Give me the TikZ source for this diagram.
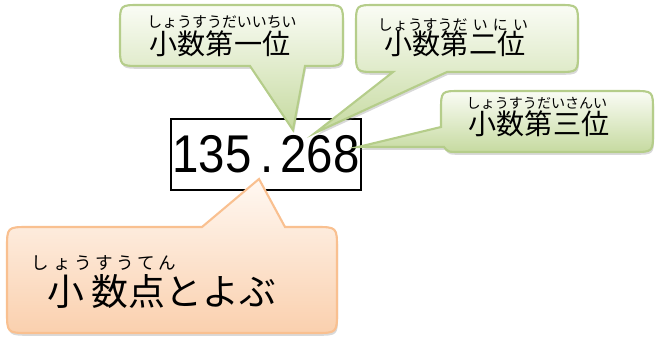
\documentclass[tikz,border=0pt]{standalone}
\usepackage{fontspec}
\newfontfamily\jpfont{Noto Sans CJK JP}
\newfontfamily\numfont{Liberation Sans}
\usetikzlibrary{shadows}
\definecolor{gline}{HTML}{B5CD8A}
\definecolor{gtop}{HTML}{FAFCF5}
\definecolor{gbot}{HTML}{C6DAA0}
\definecolor{oline}{HTML}{F9C090}
\definecolor{otop}{HTML}{FFF8F2}
\definecolor{obot}{HTML}{FAD0AE}
\def\spreadit#1{\ifx#1\relax\else#1\hspace{2pt}\expandafter\spreadit\fi}
\tikzset{
  callgreen/.style={draw=gline, line width=1.2pt, top color=gtop, bottom color=gbot,
    drop shadow={shadow xshift=0.6pt, shadow yshift=-1.6pt, opacity=0.3}},
  callorange/.style={draw=oline, line width=1.2pt, top color=otop, bottom color=obot,
    drop shadow={shadow xshift=0.6pt, shadow yshift=-1.6pt, opacity=0.3}},
  ruby/.style={inner sep=0pt, font=\jpfont\fontsize{8.5pt}{9pt}\selectfont},
  kanji/.style={inner sep=0pt, font=\jpfont\fontsize{16pt}{18pt}\selectfont}
}
\begin{document}
\begin{tikzpicture}[x=0.02cm, y=-0.02cm]
  \useasboundingbox (0,0) rectangle (655,340);

  %% number in the box
  \node[draw, line width=1pt, minimum width=3.8cm, minimum height=1.42cm, inner sep=0pt,
        font=\numfont\fontsize{27pt}{28pt}\selectfont] (num) at (266,154.5)
        {\scalebox{1}[1.12]{135\kern5pt.\kern4pt268}};

  %% tips of the callouts
  \coordinate (tipA) at (293,130);
  \coordinate (tipB) at (315,133);
  \coordinate (tipC) at (358,147);
  \coordinate (tipD) at (259,179);

  %% callout 1
  \path[callgreen] (140,5) -- (323,5) .. controls (343,5) .. (343,25) -- (343,46)
    .. controls (343,66) .. (323,66) -- (305,66) -- (tipA) -- (250,66) -- (140,66)
    .. controls (120,66) .. (120,46) -- (120,25) .. controls (120,5) .. (140,5) -- cycle;
  \node[ruby] (rubyA) at (222,22) {しょうすうだいいちい};
  \node[kanji] (textA) at (220,44) {小数第一位};

  %% callout 2
  \path[callgreen] (376,5) -- (558,5) .. controls (578,5) .. (578,25) -- (578,52)
    .. controls (578,72) .. (558,72) -- (447,72) -- (tipB) -- (393,72) -- (376,72)
    .. controls (356,72) .. (356,52) -- (356,25) .. controls (356,5) .. (376,5) -- cycle;
  \node[ruby] (rubyB) at (453,25) {しょうすうだ\hspace{3pt}い\hspace{3pt}に\hspace{3pt}い};
  \node[kanji] (textB) at (455,44) {小数第二位};

  %% callout 3
  \path[callgreen] (461,91) -- (633,91) .. controls (653,91) .. (653,111) -- (653,132)
    .. controls (653,152) .. (633,152) -- (460,152) .. controls (448,152) .. (444,147)
    -- (tipC) -- (441,127) -- (441,111) .. controls (441,91) .. (461,91) -- cycle;
  \node[ruby, font=\jpfont\fontsize{8pt}{9pt}\selectfont] (rubyC) at (537,103) {しょうすうだいさんい};
  \node[kanji] (textC) at (539,124) {小数第三位};

  %% callout 4
  \path[callorange] (29,227) -- (202,227) -- (tipD) -- (285,227) -- (315,227)
    .. controls (337,227) .. (337,249) -- (337,311) .. controls (337,333) .. (315,333)
    -- (29,333) .. controls (7,333) .. (7,311) -- (7,249) .. controls (7,227) .. (29,227) -- cycle;
  \node[ruby, font=\jpfont\fontsize{10pt}{11pt}\selectfont] (rubyD) at (104,263) {\spreadit しょうすうてん\relax};
  \node[kanji, font=\jpfont\fontsize{21pt}{23pt}\selectfont] (textD) at (162,292) {小\hspace{4pt}数点とよぶ};
\end{tikzpicture}
\end{document}
